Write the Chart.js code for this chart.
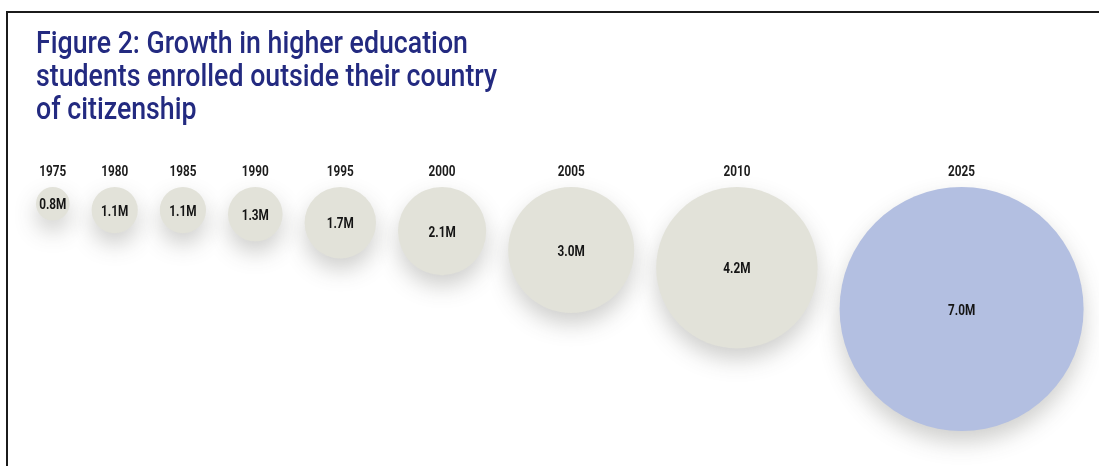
<!DOCTYPE html>
<html>
<head>
<meta charset="utf-8">
<script src="https://cdn.jsdelivr.net/npm/chart.js@4.4.1/dist/chart.umd.min.js"></script>
<style>
html,body{margin:0;padding:0;background:#fff;}
#wrap{position:relative;width:1099px;height:466px;overflow:hidden;background:#fff;}
#frame{position:absolute;left:6px;top:11px;right:-10px;bottom:-10px;border-left:2px solid #1b1b1b;border-top:2px solid #1b1b1b;}
#c{position:absolute;left:0;top:0;}
</style>
</head>
<body>
<div id="wrap"><div id="frame"></div><canvas id="c" width="1099" height="466"></canvas></div>
<script>
// ---- data ----
const titleLines = ['Figure 2: Growth in higher education', 'students enrolled outside their country', 'of citizenship'];
const years = ['1975', '1980', '1985', '1990', '1995', '2000', '2005', '2010', '2025'];
const studentsMillions = [0.8, 1.1, 1.1, 1.3, 1.7, 2.1, 3.0, 4.2, 7.0];
const highlightYear = '2025';

// ---- styles / layout ----
const BEIGE = '#e2e2d9';
const BLUE = '#b3bfe1';
const LEFT = 36, TOP = 187, GAP = 22, YEAR_Y = 172;
const radiusDomain = [0, 3, 7], radiusRange = [0, 63, 122];
const TITLE = { x: 36, y: 45, lineGap: 33, font: "500 32px Roboto, 'Liberation Sans', Arial, sans-serif", stretch: 0.835, color: '#232a80' };
const LABEL = { font: "bold 14px Roboto, 'Liberation Sans', Arial, sans-serif", stretch: 0.84 };

function radiusOf(v) {
  for (let i = 1; i < radiusDomain.length; i++) {
    if (v <= radiusDomain[i] || i === radiusDomain.length - 1) {
      const t = (v - radiusDomain[i - 1]) / (radiusDomain[i] - radiusDomain[i - 1]);
      return radiusRange[i - 1] + t * (radiusRange[i] - radiusRange[i - 1]);
    }
  }
}

// pack circles left to right, tops aligned
let cursor = LEFT;
const points = studentsMillions.map((v, i) => {
  const r = radiusOf(v);
  const x = cursor + r;
  cursor += 2 * r + GAP;
  return { x: x, y: TOP + r, r: r, year: years[i], value: v };
});

function condensedText(c, text, x, y, stretch, align) {
  c.save();
  c.translate(x, y);
  c.scale(stretch, 1);
  c.textAlign = align;
  c.fillText(text, 0, 0);
  c.restore();
}

const titlePlugin = {
  id: 'condensedTitle',
  afterDraw(chart) {
    const c = chart.ctx;
    c.save();
    c.font = TITLE.font;
    c.fillStyle = TITLE.color;
    c.textBaseline = 'middle';
    titleLines.forEach((line, i) => condensedText(c, line, TITLE.x, TITLE.y + i * TITLE.lineGap, TITLE.stretch, 'left'));
    c.restore();
  }
};

const shadowPlugin = {
  id: 'softShadow',
  beforeDatasetDraw(chart) {
    const c = chart.ctx;
    c.save();
    c.shadowColor = 'rgba(70,70,60,0.26)';
    c.shadowBlur = 22;
    c.shadowOffsetY = 11;
  },
  afterDatasetDraw(chart) { chart.ctx.restore(); }
};

const labelPlugin = {
  id: 'bubbleLabels',
  afterDatasetsDraw(chart) {
    const c = chart.ctx;
    const meta = chart.getDatasetMeta(0);
    c.save();
    c.font = LABEL.font;
    c.textBaseline = 'middle';
    meta.data.forEach((el, i) => {
      const p = chart.data.datasets[0].data[i];
      c.fillStyle = '#1c1c1c';
      condensedText(c, p.year, el.x, YEAR_Y, LABEL.stretch, 'center');
      c.fillStyle = '#141414';
      condensedText(c, p.value.toFixed(1) + 'M', el.x, el.y + 2, LABEL.stretch, 'center');
    });
    c.restore();
  }
};

new Chart(document.getElementById('c'), {
  type: 'bubble',
  data: {
    datasets: [{
      label: 'Students enrolled outside their country of citizenship (millions)',
      data: points,
      backgroundColor: points.map(p => p.year === highlightYear ? BLUE : BEIGE),
      borderWidth: 0,
      hoverBorderWidth: 0,
      clip: false
    }]
  },
  options: {
    responsive: false,
    animation: false,
    events: [],
    layout: { autoPadding: false, padding: { left: LEFT, right: 0, top: TOP, bottom: 0 } },
    plugins: {
      legend: { display: false },
      tooltip: { enabled: false },
      title: { display: false }
    },
    scales: {
      x: { type: 'linear', display: false, min: LEFT, max: 1099 },
      y: { type: 'linear', display: false, min: TOP, max: 466, reverse: true }
    }
  },
  plugins: [shadowPlugin, labelPlugin, titlePlugin]
});
</script>
</body>
</html>
